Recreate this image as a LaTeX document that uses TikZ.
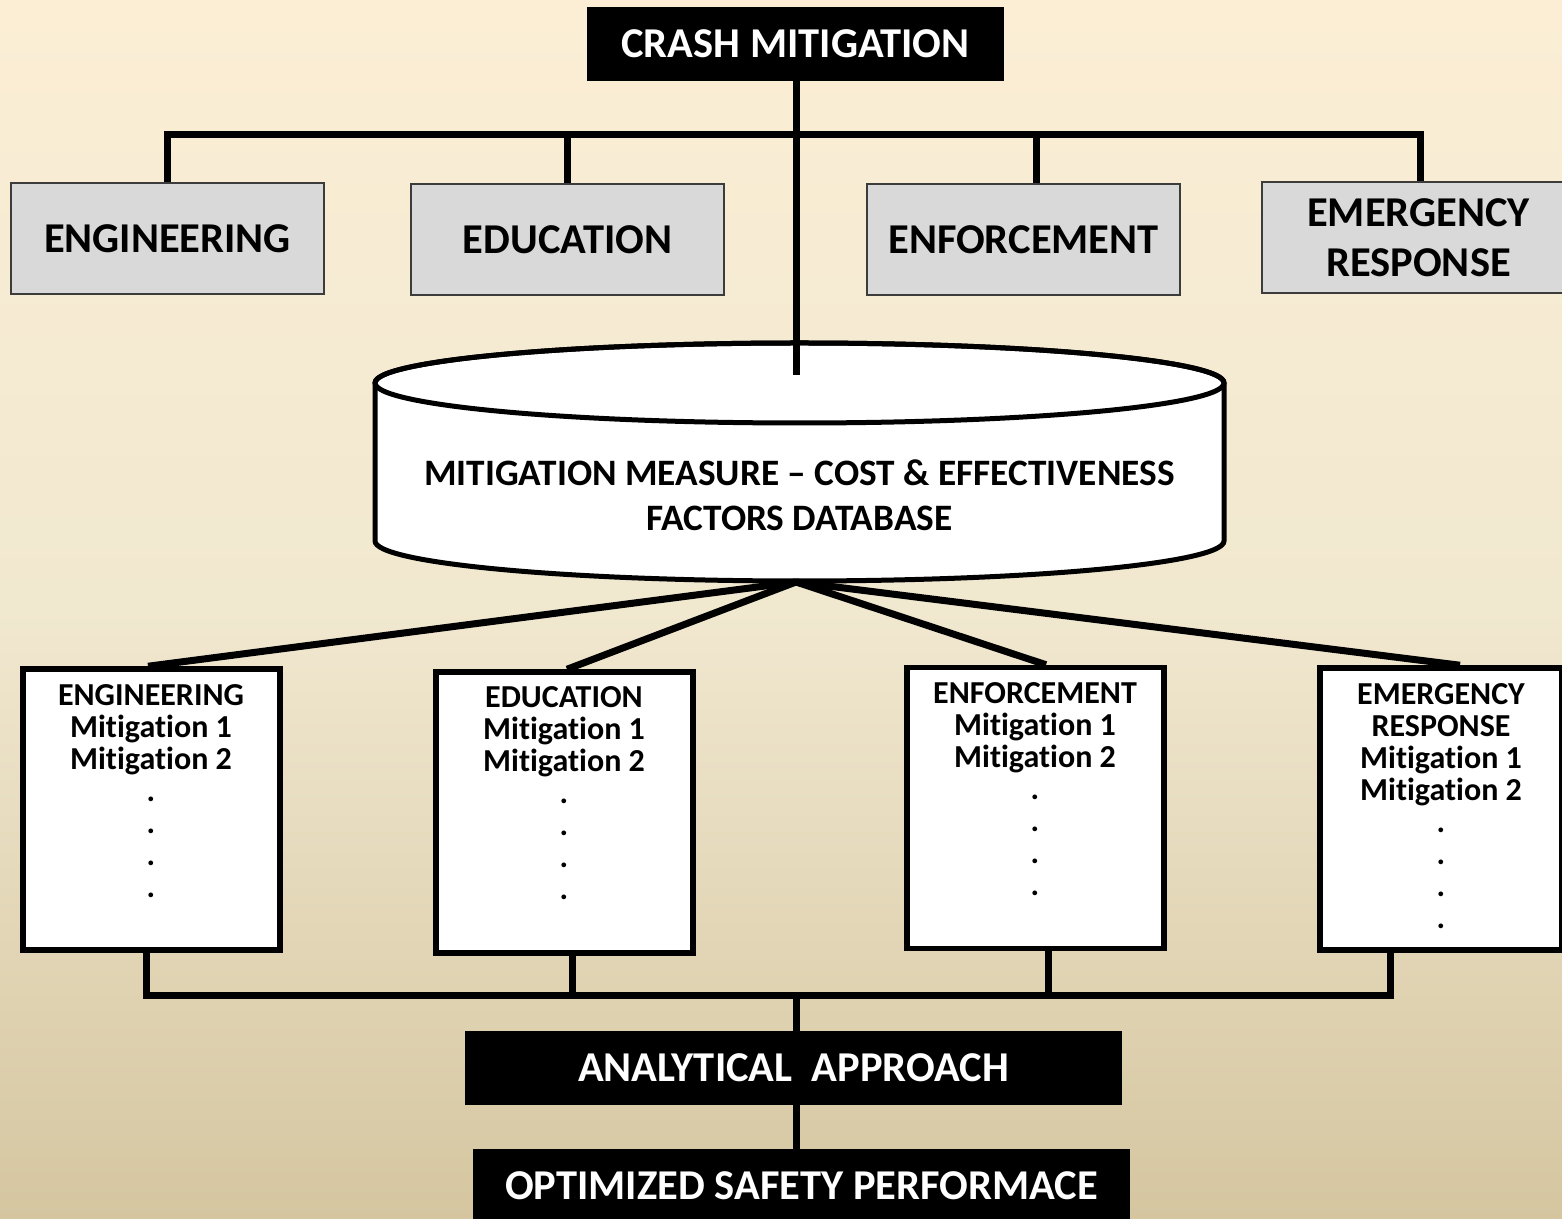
\documentclass[tikz,border=0pt]{standalone}
\usepackage{fontspec}
\setmainfont{Carlito}[Ligatures=NoCommon]
\usetikzlibrary{calc}
\definecolor{bgtop}{RGB}{251,238,213}
\definecolor{bgmid}{RGB}{241,232,208}
\definecolor{bgbot}{RGB}{213,198,160}
\definecolor{boxgray}{RGB}{217,217,217}
\definecolor{boxedge}{RGB}{60,60,60}
\begin{document}
\begin{tikzpicture}[x=1pt,y=1pt,
  conn/.style={line width=7pt},
  blackbox/.style={fill=black, text=white, minimum width=657pt, minimum height=74pt, inner sep=0pt,
    font=\fontsize{42.5}{50}\selectfont\bfseries},
  catbox/.style={fill=boxgray, draw=boxedge, line width=2pt, minimum width=313pt, minimum height=111pt,
    inner sep=0pt, align=center, font=\fontsize{42.5}{50}\selectfont\bfseries},
  listbox/.style={fill=white, draw=black, line width=5.5pt, minimum width=257pt, minimum height=281pt, inner sep=0pt},
  listtext/.style={anchor=north, inner sep=0pt, align=center, font=\fontsize{32}{32}\selectfont\bfseries}
]
% background
\useasboundingbox (0,0) rectangle (1562,1218);
\shade[top color=bgtop, bottom color=bgbot, middle color=bgmid] (0,0) rectangle (1562,1218);

% top box
\node[blackbox, minimum width=417pt] (crash) at (795.5,1174) {CRASH MITIGATION};

% category boxes
\node[catbox] (eng) at (167.5,979.5) {ENGINEERING};
\node[catbox] (edu) at (567.5,978.5) {EDUCATION};
\node[catbox] (enf) at (1023.5,978.5) {ENFORCEMENT};
\node[catbox] (emr) at (1418.5,980) {EMERGENCY\\RESPONSE};

% top bus
\coordinate (busY) at (0,1083);
\coordinate (tEnf) at ($(enf.north)+(12.5,0)$);
\coordinate (tEmr) at ($(emr.north)+(1.5,0)$);
\draw[conn] (eng.north) -- (eng.north |- busY) -- (tEmr |- busY) -- (tEmr);
\draw[conn] (edu.north) -- (edu.north |- busY);
\draw[conn] (tEnf) -- (tEnf |- busY);

% database cylinder
\filldraw[fill=white, line width=5pt] (375,835) -- (375,677)
  arc[start angle=180, end angle=360, x radius=424.5, y radius=40]
  -- (1224,835)
  arc[start angle=0, end angle=180, x radius=424.5, y radius=40] -- cycle;
\draw[line width=5pt] (799.5,835) ellipse[x radius=424.5, y radius=40];
\node[inner sep=0pt, align=center, font=\fontsize{37.3}{45}\selectfont\bfseries] (db) at (799.5,722.5)
  {MITIGATION MEASURE -- COST \& EFFECTIVENESS\\FACTORS DATABASE};
\coordinate (dbtop) at (796,843);
\draw[conn] (crash.south -| dbtop) -- (dbtop);

% list boxes
\node[listbox] (lA) at (151.5,408.5) {};
\node[listbox] (lB) at (564.5,405.5) {};
\node[listbox] (lC) at (1035.5,410) {};
\node[listbox, minimum width=242pt, minimum height=282pt] (lD) at (1441,409) {};

% fan
\coordinate (fan) at (796,636);
\draw[conn] (fan) -- ($(lA.north)+(-3.5,0)$);
\draw[conn] (fan) -- ($(lB.north)+(2.5,0)$);
\draw[conn] (fan) -- ($(lC.north)+(10.5,0)$);
\draw[conn] (fan) -- ($(lD.north)+(19,0)$);

% redraw list boxes over fan ends
\node[listbox] at (lA) {};
\node[listbox] at (lB) {};
\node[listbox] at (lC) {};
\node[listbox, minimum width=242pt, minimum height=282pt] at (lD) {};

\node[listtext] (xA) at (151,534) {ENGINEERING\\Mitigation 1\\Mitigation 2\\.\\.\\.\\.};
\node[listtext] (xB) at (564,532) {EDUCATION\\Mitigation 1\\Mitigation 2\\.\\.\\.\\.};
\node[listtext] (xC) at (1035,536) {ENFORCEMENT\\Mitigation 1\\Mitigation 2\\.\\.\\.\\.};
\node[listtext] (xD) at (1441,535) {EMERGENCY\\RESPONSE\\Mitigation 1\\Mitigation 2\\.\\.\\.\\.};

% bottom boxes
\node[blackbox] (ana) at (793.5,150) {ANALYTICAL\ \ APPROACH};
\node[blackbox] (opt) at (801.5,32) {OPTIMIZED SAFETY PERFORMACE};

% bottom bus
\coordinate (bus2) at (0,223);
\coordinate (bA) at ($(lA.south)+(-5.5,0)$);
\coordinate (bB) at ($(lB.south)+(7.5,0)$);
\coordinate (bC) at ($(lC.south)+(12.5,0)$);
\coordinate (bD) at ($(lD.south)+(-51,0)$);
\coordinate (j2) at (796,223);
\draw[conn] (bA) -- (bA |- bus2) -- (bD |- bus2) -- (bD);
\draw[conn] (bB) -- (bB |- bus2);
\draw[conn] (bC) -- (bC |- bus2);
\draw[conn] (j2) -- (j2 |- ana.north);
\draw[conn] (ana.south -| j2) -- (opt.north -| j2);
\end{tikzpicture}
\end{document}
